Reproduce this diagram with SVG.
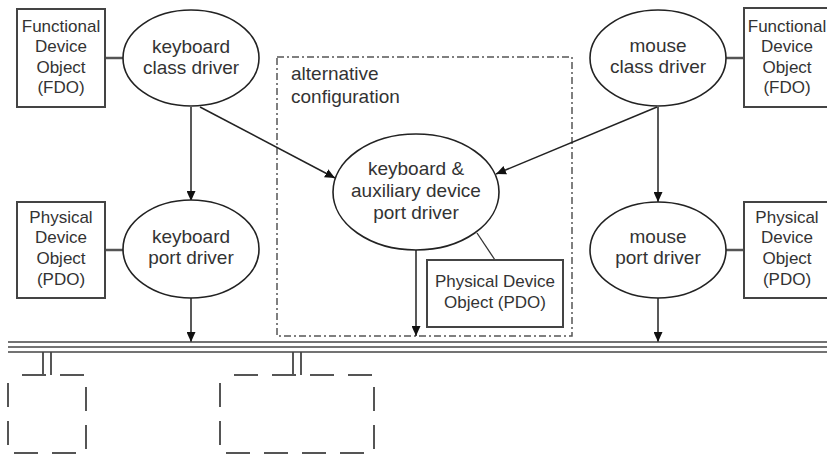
<svg xmlns="http://www.w3.org/2000/svg" width="827" height="455" viewBox="0 0 827 455">
  <style>
    .bg { fill: #ffffff; }
    .obj { fill: #ffffff; stroke: #444444; stroke-width: 2; }
    .drv { fill: #ffffff; stroke: #222222; stroke-width: 1.6; }
    .link { stroke: #555555; stroke-width: 2.5; fill: none; }
    .thin { stroke: #333333; stroke-width: 1.3; fill: none; }
    .arrow { stroke: #222222; stroke-width: 1.5; fill: none; marker-end: url(#head); }
    .bus { stroke: #444444; stroke-width: 1.6; fill: none; }
    .stub { stroke: #444444; stroke-width: 1.8; fill: none; }
    .dev { fill: none; stroke: #555555; stroke-width: 2; stroke-dasharray: 24 14; stroke-dashoffset: 24; }
    .alt { fill: none; stroke: #555555; stroke-width: 1.5; stroke-dasharray: 7 3 2 3; }
    .t19 { font-family: "Liberation Sans", Arial, sans-serif; font-size: 19px; fill: #333333; text-anchor: middle; }
    .t17 { font-family: "Liberation Sans", Arial, sans-serif; font-size: 17px; fill: #333333; text-anchor: middle; }
    .lbl { font-family: "Liberation Sans", Arial, sans-serif; font-size: 19px; fill: #333333; }
  </style>
  <defs>
    <marker id="head" markerUnits="userSpaceOnUse" markerWidth="10" markerHeight="9" refX="10" refY="4.5" orient="auto">
      <path d="M0,0 L10,4.5 L0,9 z" fill="#111111"/>
    </marker>
  </defs>

  <rect class="bg" x="0" y="0" width="827" height="455"/>

  <!-- alternative configuration frame -->
  <g id="alternative">
    <rect class="alt" x="277" y="57" width="295" height="279"/>
    <text class="lbl" x="291" y="80">alternative</text>
    <text class="lbl" x="291" y="103">configuration</text>
  </g>

  <!-- connectors -->
  <g id="connectors">
    <line class="link" x1="105" y1="58" x2="123" y2="58"/>
    <line class="link" x1="726" y1="58" x2="744" y2="58"/>
    <line class="link" x1="105" y1="250" x2="123" y2="250"/>
    <line class="link" x1="726" y1="250" x2="744" y2="250"/>
    <line class="thin" x1="477" y1="233" x2="495" y2="260"/>
    <line class="arrow" x1="191" y1="107" x2="191" y2="201"/>
    <line class="arrow" x1="658" y1="107" x2="658" y2="202"/>
    <line class="arrow" x1="200" y1="107" x2="335" y2="178"/>
    <line class="arrow" x1="657" y1="107" x2="496" y2="174"/>
    <line class="arrow" x1="191" y1="298" x2="191" y2="342"/>
    <line class="arrow" x1="658" y1="298" x2="658" y2="342"/>
    <line class="arrow" x1="416" y1="250" x2="416" y2="336"/>
    <line class="stub" x1="43" y1="352" x2="43" y2="375"/>
    <line class="stub" x1="51" y1="352" x2="51" y2="375"/>
    <line class="stub" x1="293" y1="352" x2="293" y2="375"/>
    <line class="stub" x1="301" y1="352" x2="301" y2="375"/>
  </g>

  <!-- bus -->
  <g id="bus">
    <line class="bus" x1="8" y1="342" x2="827" y2="342"/>
    <line class="bus" x1="8" y1="347" x2="827" y2="347"/>
    <line class="bus" x1="8" y1="352" x2="827" y2="352"/>
  </g>

  <!-- devices on the bus -->
  <g id="device-1"><rect class="dev" x="8" y="375" width="78" height="78"/></g>
  <g id="device-2"><rect class="dev" x="220" y="375" width="154" height="78"/></g>

  <g id="kbd-fdo">
    <rect class="obj" x="17" y="9" width="88" height="98"/>
    <text class="t17" x="61" y="32">Functional</text>
    <text class="t17" x="61" y="52">Device</text>
    <text class="t17" x="61" y="73">Object</text>
    <text class="t17" x="61" y="93">(FDO)</text>
  </g>

  <g id="kbd-class">
    <ellipse class="drv" cx="191" cy="58" rx="68" ry="48"/>
    <text class="t19" x="191" y="53">keyboard</text>
    <text class="t19" x="191" y="74">class driver</text>
  </g>

  <g id="mouse-class">
    <ellipse class="drv" cx="658" cy="58" rx="68" ry="48"/>
    <text class="t19" x="658" y="52">mouse</text>
    <text class="t19" x="658" y="73">class driver</text>
  </g>

  <g id="mouse-fdo">
    <rect class="obj" x="744" y="8" width="84" height="99"/>
    <text class="t17" x="787" y="32">Functional</text>
    <text class="t17" x="787" y="52">Device</text>
    <text class="t17" x="787" y="73">Object</text>
    <text class="t17" x="787" y="93">(FDO)</text>
  </g>

  <g id="kbd-pdo">
    <rect class="obj" x="17" y="202" width="88" height="96"/>
    <text class="t17" x="61" y="223">Physical</text>
    <text class="t17" x="61" y="243">Device</text>
    <text class="t17" x="61" y="264">Object</text>
    <text class="t17" x="61" y="285">(PDO)</text>
  </g>

  <g id="kbd-port">
    <ellipse class="drv" cx="191" cy="249" rx="68" ry="49"/>
    <text class="t19" x="191" y="243">keyboard</text>
    <text class="t19" x="191" y="264">port driver</text>
  </g>

  <g id="aux-port">
    <ellipse class="drv" cx="416" cy="192" rx="83" ry="58"/>
    <text class="t19" x="416" y="175">keyboard &amp;</text>
    <text class="t19" x="416" y="197">auxiliary device</text>
    <text class="t19" x="416" y="219">port driver</text>
  </g>

  <g id="aux-pdo">
    <rect class="obj" x="427" y="260" width="136" height="67"/>
    <text class="t17" x="495" y="287">Physical Device</text>
    <text class="t17" x="495" y="308">Object (PDO)</text>
  </g>

  <g id="mouse-port">
    <ellipse class="drv" cx="658" cy="250" rx="68" ry="48"/>
    <text class="t19" x="658" y="243">mouse</text>
    <text class="t19" x="658" y="264">port driver</text>
  </g>

  <g id="mouse-pdo">
    <rect class="obj" x="744" y="202" width="84" height="96"/>
    <text class="t17" x="787" y="223">Physical</text>
    <text class="t17" x="787" y="243">Device</text>
    <text class="t17" x="787" y="264">Object</text>
    <text class="t17" x="787" y="285">(PDO)</text>
  </g>
</svg>
